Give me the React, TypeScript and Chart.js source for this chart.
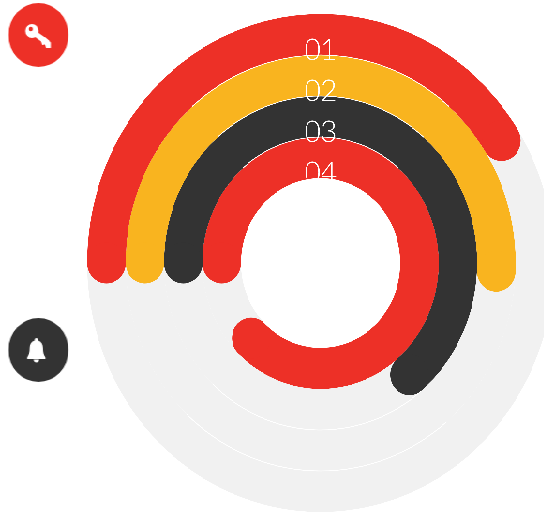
import React, { useEffect, useRef } from "react";
import { Chart, registerables } from "chart.js";

Chart.register(...registerables);

const labels = ["01", "02", "03", "04"];
const filled = [41, 50.7, 63.8, 87.4];
const total = 100;
const colors = ["#ED3027", "#F9B41F", "#333333", "#ED3027"];
const track = "#F1F1F1";

const ringPlugin = {
  id: "ringCaps",
  afterDatasetsDraw(chart: any) {
    const ctx = chart.ctx as CanvasRenderingContext2D;
    ctx.save();
    const arcs = chart.data.datasets.map((_: any, i: number) => chart.getDatasetMeta(i).data[0]);
    arcs.forEach((arc: any, i: number) => {
      const mid = (arc.innerRadius + arc.outerRadius) / 2;
      const capR = (arc.outerRadius - arc.innerRadius) / 2;
      ctx.fillStyle = colors[i];
      [arc.startAngle, arc.endAngle].forEach((a: number) => {
        ctx.beginPath();
        ctx.arc(arc.x + Math.cos(a) * mid, arc.y + Math.sin(a) * mid, capR, 0, Math.PI * 2);
        ctx.fill();
      });
    });
    // hairlines between the rings
    ctx.strokeStyle = "#FFFFFF";
    ctx.lineWidth = 0.9;
    arcs.forEach((arc: any, i: number) => {
      if (i === 0) return;
      const rad = arc.outerRadius;
      ctx.beginPath();
      ctx.arc(arc.x, arc.y, rad, -Math.PI / 2 - 0.72, -Math.PI / 2 + 0.72);
      ctx.stroke();
      if (i < 3) {
        ctx.beginPath();
        ctx.arc(arc.x, arc.y, rad, Math.PI / 2 - 0.7, Math.PI / 2 + 0.76);
        ctx.stroke();
      }
    });
    ctx.fillStyle = "#FFFFFF";
    ctx.font = "300 30px Lato";
    ctx.textAlign = "center";
    ctx.textBaseline = "alphabetic";
    arcs.forEach((arc: any, i: number) => {
      ctx.fillText(labels[i], arc.x, arc.y - arc.outerRadius + 46);
    });
    ctx.restore();
  },
};

function Badge({ top, color, children }: { top: number; color: string; children: React.ReactNode }) {
  return (
    <svg
      width={64}
      height={64}
      viewBox="0 0 64 64"
      style={{ position: "absolute", left: 8.5, top, display: "block" }}
    >
      <circle cx={32} cy={32} r={32} fill={color} />
      {children}
    </svg>
  );
}

export default function App() {
  const ref = useRef<HTMLCanvasElement>(null);
  useEffect(() => {
    const chart = new Chart(ref.current!, {
      type: "doughnut",
      data: {
        labels: ["value", "rest"],
        datasets: filled.map((v, i) => ({
          label: labels[i],
          data: [v, total - v],
          backgroundColor: [colors[i], track],
          borderWidth: 0,
        })),
      },
      options: {
        responsive: false,
        animation: false,
        devicePixelRatio: 3,
        events: [],
        rotation: -90,
        cutout: 85,
        layout: { padding: 0 },
        plugins: { legend: { display: false }, tooltip: { enabled: false } },
      } as any,
      plugins: [ringPlugin],
    });
    // keep the drawing size in layout pixels while the buffer stays supersampled
    ref.current!.style.width = "498px";
    ref.current!.style.height = "498px";
    return () => chart.destroy();
  }, []);

  return (
    <div style={{ position: "absolute", left: 0, top: 0, width: 544, height: 514, overflow: "hidden" }}>
      <div
        style={{
          position: "absolute",
          left: 0,
          top: 0,
          width: 600,
          height: 514,
          transform: "scaleX(0.9375)",
          transformOrigin: "0 0",
        }}
      >
        <canvas ref={ref} width={498} height={498} style={{ position: "absolute", left: 93, top: 14 }} />
        <Badge top={3} color="#ED3027">
          <path d="M26 29 L42 40" stroke="#fff" strokeWidth={5.5} fill="none" />
          <path d="M34 36 L36 42 L39 41.5 L40 45 L45 45 L45 39.5 L39 34 Z" fill="#fff" />
          <circle cx={25} cy={28} r={7} fill="#fff" />
          <circle cx={23.8} cy={26} r={2.2} fill="#ED3027" />
        </Badge>
        <Badge top={318} color="#333333">
          <path
            d="M29.7 20 C31.2 20 31.8 21.2 31.6 22.4 C35 23.4 36.8 26.4 36.8 30 C36.8 34.4 37.6 37 39.4 39.4 L39.4 41 L20 41 L20 39.4 C21.8 37 22.6 34.4 22.6 30 C22.6 26.4 24.4 23.4 27.8 22.4 C27.6 21.2 28.2 20 29.7 20 Z"
            fill="#fff"
          />
          <path d="M26.7 41.5 L32.7 41.5 C32.7 43.2 31.3 44.5 29.7 44.5 C28.1 44.5 26.7 43.2 26.7 41.5 Z" fill="#fff" />
        </Badge>
      </div>
    </div>
  );
}
